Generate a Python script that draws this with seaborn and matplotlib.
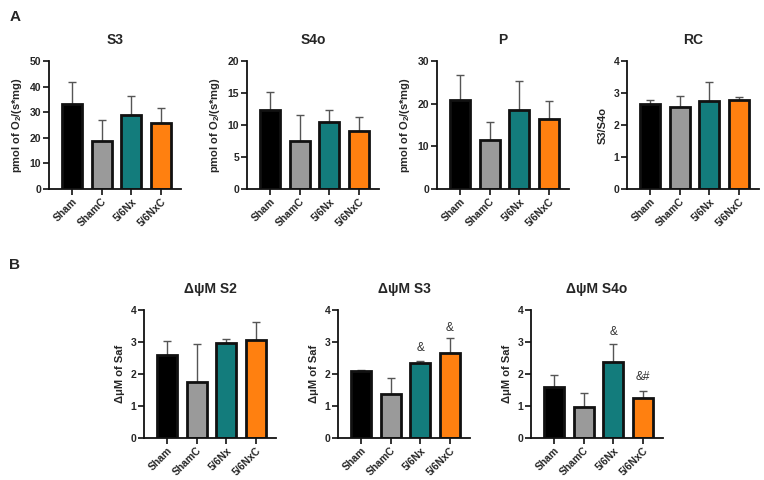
import numpy as np
import pandas as pd
import matplotlib
matplotlib.use("Agg")
import matplotlib.pyplot as plt
import seaborn as sns

sns.set_style("white")
plt.rcParams['font.family'] = ['Liberation Sans', 'DejaVu Sans']
plt.rcParams['mathtext.fontset'] = 'custom'
plt.rcParams['mathtext.rm'] = 'Liberation Sans:bold'
plt.rcParams['mathtext.bf'] = 'Liberation Sans:bold'
plt.rcParams['mathtext.default'] = 'rm'

groups = ["Sham", "ShamC", "5/6Nx", "5/6NxC"]
colors = ["#000000", "#9A9A9A", "#137C7C", "#FF8010"]

# Panel A
s3_mean = [33.1, 18.9, 29.0, 25.6]
s3_upper = [41.9, 27.1, 36.5, 31.8]
s4o_mean = [12.3, 7.5, 10.4, 9.0]
s4o_upper = [15.2, 11.5, 12.4, 11.2]
p_mean = [20.8, 11.4, 18.5, 16.5]
p_upper = [26.7, 15.8, 25.2, 20.7]
rc_mean = [2.66, 2.56, 2.74, 2.79]
rc_upper = [2.79, 2.91, 3.34, 2.89]

# Panel B
d_s2_mean = [2.60, 1.74, 2.97, 3.05]
d_s2_upper = [3.02, 2.95, 3.09, 3.64]
d_s3_mean = [2.08, 1.39, 2.33, 2.67]
d_s3_upper = [2.14, 1.87, 2.42, 3.14]
d_s4o_mean = [1.59, 0.97, 2.38, 1.26]
d_s4o_upper = [1.98, 1.42, 2.95, 1.47]

d_s3_marks = ["", "", "&", "&"]
d_s3_mark_y = [0, 0, 2.8, 3.45]
d_s4o_marks = ["", "", "&", "&#"]
d_s4o_mark_y = [0, 0, 3.3, 1.9]

o2_label = r"pmol of O$_{2}$/(s*mg)"
dpsi_label = "ΔμM of Saf"

panels = [
    ("S3", s3_mean, s3_upper, 50, 10, o2_label, (49, 189), None, None),
    ("S4o", s4o_mean, s4o_upper, 20, 5, o2_label, (247, 189), None, None),
    ("P", p_mean, p_upper, 30, 10, o2_label, (437, 189), None, None),
    ("RC", rc_mean, rc_upper, 4, 1, "S3/S4o", (627, 189), None, None),
    ("ΔψM S2", d_s2_mean, d_s2_upper, 4, 1, dpsi_label, (144, 438), None, None),
    ("ΔψM S3", d_s3_mean, d_s3_upper, 4, 1, dpsi_label, (338, 438), d_s3_marks, d_s3_mark_y),
    ("ΔψM S4o", d_s4o_mean, d_s4o_upper, 4, 1, dpsi_label, (531, 438), d_s4o_marks, d_s4o_mark_y),
]

W, H = 764, 480
fig = plt.figure(figsize=(W / 100, H / 100), dpi=100)
aw, ah = 132, 128

for title, mean, upper, ymax, ystep, ylabel, (lx, by), marks, mark_y in panels:
    ax = fig.add_axes([lx / W, (H - by) / H, aw / W, ah / H])
    df = pd.DataFrame({"group": groups, "value": mean})
    x = np.arange(len(groups))
    m = np.array(mean)
    u = np.array(upper)
    ax.errorbar(x, m, yerr=[np.zeros_like(m), u - m], fmt="none",
                ecolor="#555555", elinewidth=1.0, capsize=3, capthick=1.0, zorder=1)
    sns.barplot(data=df, x="group", y="value", hue="group", palette=colors,
                order=groups, hue_order=groups, legend=False, errorbar=None,
                saturation=1, width=0.67, edgecolor="#111111", linewidth=2.0,
                ax=ax, zorder=2)
    for patch in ax.patches:
        patch.set_zorder(2)
    ax.set_xlim(-0.78, 3.68)
    ax.set_ylim(0, ymax)
    ax.set_yticks(np.arange(0, ymax + ystep / 2, ystep))
    ax.set_xlabel("")
    ax.set_ylabel(ylabel, fontsize=8, fontweight="bold", labelpad=4)
    ax.set_title(title, fontsize=10, fontweight="bold", pad=12)
    sns.despine(ax=ax)
    for s in ["left", "bottom"]:
        ax.spines[s].set_linewidth(1.3)
        ax.spines[s].set_color("#111111")
    ax.tick_params(axis="both", which="major", direction="out", length=4,
                   width=1.2, color="#111111", labelsize=7.5, pad=1.5, left=True, bottom=True)
    ax.set_xticks(x)
    ax.set_xticklabels(groups, rotation=45, ha="right", rotation_mode="anchor",
                       fontweight="bold", fontsize=7.5)
    for lbl in ax.get_yticklabels():
        lbl.set_fontweight("bold")
    if marks is not None:
        for xi, mk, my in zip(x, marks, mark_y):
            if mk:
                ax.text(xi, my, mk, ha="center", va="center", fontsize=8.5, color="#333333")

fig.text(10 / W, 1 - 17 / H, "A", fontsize=11, fontweight="bold", ha="left", va="center")
fig.text(9 / W, 1 - 265 / H, "B", fontsize=11, fontweight="bold", ha="left", va="center")

fig.savefig("out.png", dpi=100)
